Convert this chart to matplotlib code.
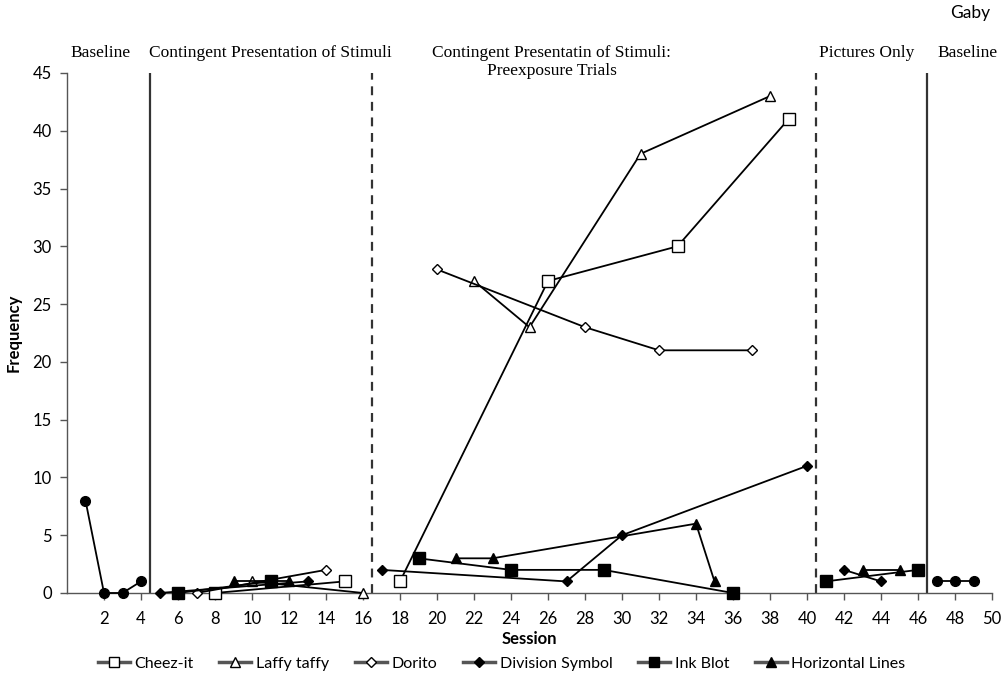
import matplotlib
matplotlib.use("Agg")
import matplotlib.pyplot as plt
from matplotlib.lines import Line2D

# session numbers and response counts for each stimulus
cheezit_sessions = [8, 15, 18, 26, 33, 39]
cheezit_values = [0, 1, 1, 27, 30, 41]

laffy_sessions = [10, 16, 22, 25, 31, 38]
laffy_values = [1, 0, 27, 23, 38, 43]

dorito_sessions = [7, 14, 20, 28, 32, 37]
dorito_values = [0, 2, 28, 23, 21, 21]

division_sessions = [5, 13, 17, 27, 30, 40, 42, 44]
division_values = [0, 1, 2, 1, 5, 11, 2, 1]

inkblot_sessions = [6, 11, 19, 24, 29, 36, 41, 46]
inkblot_values = [0, 1, 3, 2, 2, 0, 1, 2]

hlines_sessions = [9, 12, 21, 23, 34, 35, 43, 45]
hlines_values = [1, 1, 3, 3, 6, 1, 2, 2]

baseline_sessions = [1, 2, 3, 4, 47, 48, 49]
baseline_values = [8, 0, 0, 1, 1, 1, 1]

phase_changes = [4.5, 16.5, 40.5, 46.5]
phase_styles = ["-", "--", "--", "-"]
phase_labels = [
    (1.8, "Baseline"),
    (11.0, "Contingent Presentation of Stimuli"),
    (26.2, "Contingent Presentatin of Stimuli:\nPreexposure Trials"),
    (43.2, "Pictures Only"),
    (48.7, "Baseline"),
]

x_ticks = list(range(2, 51, 2))
y_ticks = list(range(0, 46, 5))

TICK_FONT = "Lato"
PHASE_FONT = "Liberation Serif"


def split_by_phase(sessions, values):
    bounds = [0] + phase_changes + [100]
    segments = []
    for lo, hi in zip(bounds[:-1], bounds[1:]):
        xs = [s for s in sessions if lo < s < hi]
        ys = [v for s, v in zip(sessions, values) if lo < s < hi]
        if xs:
            segments.append((xs, ys))
    return segments


series = [
    ("Cheez-it", cheezit_sessions, cheezit_values, "s", "white", 8),
    ("Laffy taffy", laffy_sessions, laffy_values, "^", "white", 7),
    ("Dorito", dorito_sessions, dorito_values, "D", "white", 5.5),
    ("Division Symbol", division_sessions, division_values, "D", "black", 5.5),
    ("Ink Blot", inkblot_sessions, inkblot_values, "s", "black", 8),
    ("Horizontal Lines", hlines_sessions, hlines_values, "^", "black", 7),
]

fig = plt.figure(figsize=(10.06, 6.75), dpi=100)
ax = fig.add_axes([0.0666, 0.1215, 0.9195, 0.7704])

for pos, style in zip(phase_changes, phase_styles):
    if style == "--":
        ax.axvline(pos, color="#333333", linestyle="--", linewidth=1.6,
                   dashes=(4, 3), zorder=1)
    else:
        ax.axvline(pos, color="#333333", linewidth=1.6, zorder=1)

handles = []
for name, xs_all, ys_all, marker, face, size in series:
    for xs, ys in split_by_phase(xs_all, ys_all):
        ax.plot(xs, ys, color="black", linewidth=1.3, marker=marker,
                markerfacecolor=face, markeredgecolor="black",
                markeredgewidth=1.0, markersize=size, zorder=3,
                clip_on=False)
    handles.append(Line2D([0], [0], color="#555555", linewidth=2.5,
                          marker=marker, markerfacecolor=face,
                          markeredgecolor="black", markeredgewidth=1.0,
                          markersize=size - 0.5, label=name))

for xs, ys in split_by_phase(baseline_sessions, baseline_values):
    ax.plot(xs, ys, color="black", linewidth=1.3, marker="o",
            markerfacecolor="black", markersize=7, zorder=3, clip_on=False)

ax.set_xlim(0, 50)
ax.set_ylim(0, 45)
ax.set_xticks(x_ticks)
ax.set_yticks(y_ticks)
ax.tick_params(axis="both", direction="out", length=5, width=1.0,
               color="#555555", labelsize=12)
ax.tick_params(axis="x", pad=8)
ax.tick_params(axis="y", pad=6)
for lbl in ax.get_xticklabels() + ax.get_yticklabels():
    lbl.set_fontfamily(TICK_FONT)

for side in ["top", "right"]:
    ax.spines[side].set_visible(False)
for side in ["left", "bottom"]:
    ax.spines[side].set_color("#555555")
    ax.spines[side].set_linewidth(1.0)

ax.set_xlabel("Session", fontsize=12, fontweight="bold", family=TICK_FONT,
              labelpad=3)
ax.set_ylabel("Frequency", fontsize=12, fontweight="bold", family=TICK_FONT,
              labelpad=8)

for x, text in phase_labels:
    ax.text(x, 47.4, text, ha="center", va="top", fontsize=12.5,
            family=PHASE_FONT, linespacing=1.15)

fig.text(0.964, 0.992, "Gaby", ha="center", va="top", fontsize=12.5,
         family=TICK_FONT)

ax.legend(handles=handles, loc="upper center", bbox_to_anchor=(0.47, -0.095),
          ncol=6, frameon=False, handlelength=2.0, numpoints=1,
          handletextpad=0.3, columnspacing=1.6,
          prop={"family": TICK_FONT, "size": 11.5})

fig.savefig("out.png", dpi=100)
plt.close(fig)
